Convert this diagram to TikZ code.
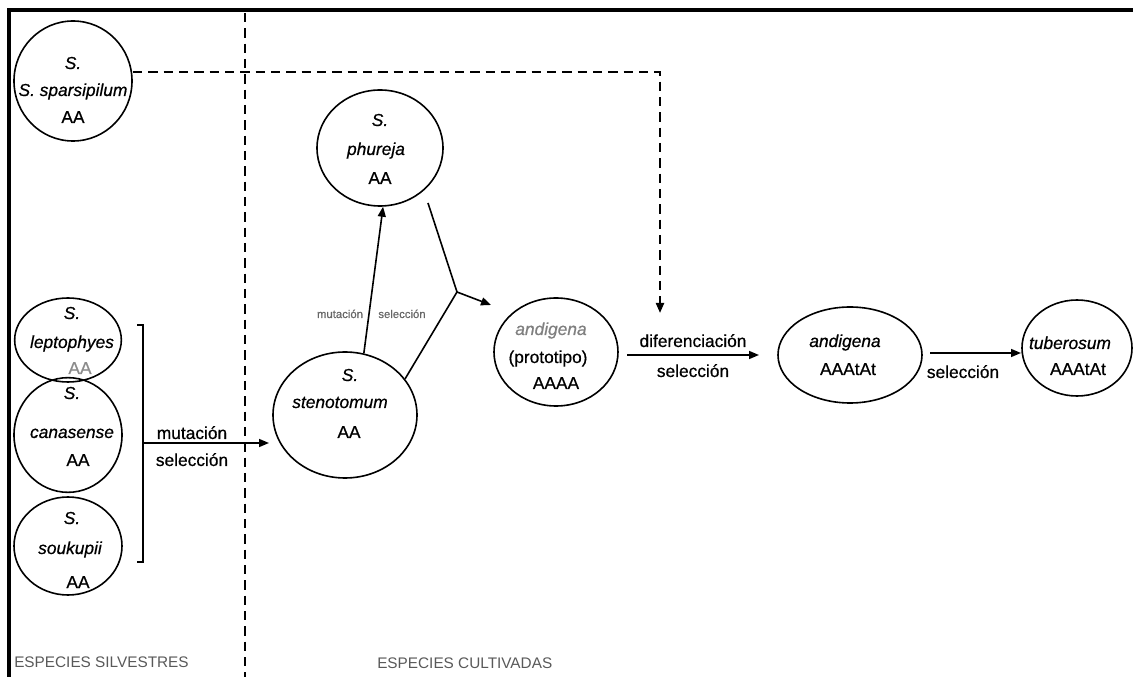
\documentclass[tikz,border=0pt]{standalone}
\usepackage{fontspec}
\setmainfont{Liberation Sans}[FakeBold=0.6]
\newfontfamily\darkfont{Liberation Sans}[FakeBold=0.6, AutoFakeBold=0.6]
\usetikzlibrary{shapes.geometric,arrows.meta}
\begin{document}
\begin{tikzpicture}[x=0.75pt,y=-0.75pt,
  sp/.style={draw, ellipse, line width=1.2pt, inner sep=0pt},
  lbl/.style={inner sep=0pt, anchor=base, font=\fontsize{13}{15}\selectfont\bfseries},
  ilbl/.style={lbl, font=\fontsize{13}{15}\selectfont\bfseries\itshape},
  small/.style={inner sep=0pt, anchor=base, font=\fontsize{8.5}{10}\selectfont, text=black!60},
  region/.style={inner sep=0pt, anchor=base west, font=\fontsize{11.5}{13}\selectfont, text=black!65},
  tip/.style={-{Triangle[length=7.5pt,width=6pt]}},
  arr/.style={line width=1.2pt, tip},
  conn/.style={line width=1.2pt},
  dline/.style={line width=1.6pt, dash pattern=on 7pt off 4.5pt},
]
\darkfont
\useasboundingbox (0,0) rectangle (1133,677);
% frame
\draw[line width=3pt] (9,677) -- (9,10.5) -- (1133,10.5);
% separator
\draw[dline] (245,13) -- (245,677);

% species nodes
\node[sp, minimum width=88.5pt, minimum height=90pt] (spa) at (73,81) {};
\node[ilbl] (spa1) at (73,69) {S.};
\node[ilbl] (spa2) at (73,96) {S. sparsipilum};
\node[lbl] (spa3) at (73,123) {AA};

\node[sp, minimum width=94.5pt, minimum height=87pt] (phu) at (380,148) {};
\node[ilbl] (phu1) at (380,126) {S.};
\node[ilbl] (phu2) at (376,155) {phureja};
\node[lbl] (phu3) at (380,184) {AA};

\node[sp, minimum width=108pt, minimum height=94.5pt] (sten) at (345,415) {};
\node[ilbl] (sten1) at (350,381) {S.};
\node[ilbl] (sten2) at (340,408) {stenotomum};
\node[lbl] (sten3) at (349,438) {AA};

\node[sp, minimum width=93pt, minimum height=81pt] (proto) at (556,352) {};
\node[ilbl, text=black!50] (proto1) at (551,335) {andigena};
\node[lbl] (proto2) at (548,363) {(prototipo)};
\node[lbl] (proto3) at (556,389) {AAAA};

\node[sp, minimum width=108pt, minimum height=72pt] (andi) at (850,355) {};
\node[ilbl] (andi1) at (845,347) {andigena};
\node[lbl] (andi2) at (848,375) {AAAtAt};

\node[sp, minimum width=82.5pt, minimum height=72pt] (tub) at (1077,348) {};
\node[ilbl] (tub1) at (1070,349) {tuberosum};
\node[lbl] (tub2) at (1078,375) {AAAtAt};

\node[sp, minimum width=80pt, minimum height=63pt] (lep) at (68,340) {};
\node[ilbl] (lep1) at (72,319) {S.};
\node[ilbl] (lep2) at (72,348) {leptophyes};
\node[lbl, text=black!45] (lep3) at (80,374) {AA};

\node[sp, minimum width=81pt, minimum height=86pt] (can) at (68,435) {};
\node[ilbl] (can1) at (72,399) {S.};
\node[ilbl] (can2) at (72,438) {canasense};
\node[lbl] (can3) at (78,466) {AA};

\node[sp, minimum width=81pt, minimum height=73.5pt] (sou) at (68,546) {};
\node[ilbl] (sou1) at (72,524) {S.};
\node[ilbl] (sou2) at (70,554) {soukupii};
\node[lbl] (sou3) at (78,588) {AA};

% bracket and arrow to stenotomum
\draw[conn] (137,325) -- (143,325) -- (143,562) -- (137,562);
\coordinate (br) at (143,443);
\coordinate (brt) at (269,443);
\draw[arr] (br) -- (brt);
\node[lbl] (m1) at (192,439) {mutación};
\node[lbl] (s1) at (192,466) {selección};

% stenotomum -> phureja
\draw[arr] (sten.73) -- (phu.-87);
\node[small] (m2) at (340,318) {mutación};
\node[small] (s2) at (402,318) {selección};

% merge to prototipo
\coordinate (p1) at (428,203);
\coordinate (j) at (457,292);
\coordinate (jt) at (491,305);
\draw[conn] (p1) -- (j);
\draw[conn] (sten.31) -- (j);
\draw[arr] (j) -- (jt);

% dashed from sparsipilum
\coordinate (d0) at (133,72);
\coordinate (d1) at (660,72);
\coordinate (d2) at (660,313);
\draw[dline, tip] (d0) -- (d1) -- (d2);

% diferenciacion
\coordinate (a1) at (627,355);
\coordinate (a2) at (759,355);
\draw[arr] (a1) -- (a2);
\node[lbl] (df) at (693,347) {diferenciación};
\node[lbl] (s3) at (693,377) {selección};

% seleccion
\coordinate (b1) at (930,353);
\coordinate (b2) at (1021,353);
\draw[arr] (b1) -- (b2);
\node[lbl] (s4) at (963,378) {selección};

% region labels
\node[region] (r1) at (14,667) {\fontspec{Liberation Sans}ESPECIES SILVESTRES};
\node[region] (r2) at (377,668) {\fontspec{Liberation Sans}ESPECIES CULTIVADAS};
\end{tikzpicture}
\end{document}
